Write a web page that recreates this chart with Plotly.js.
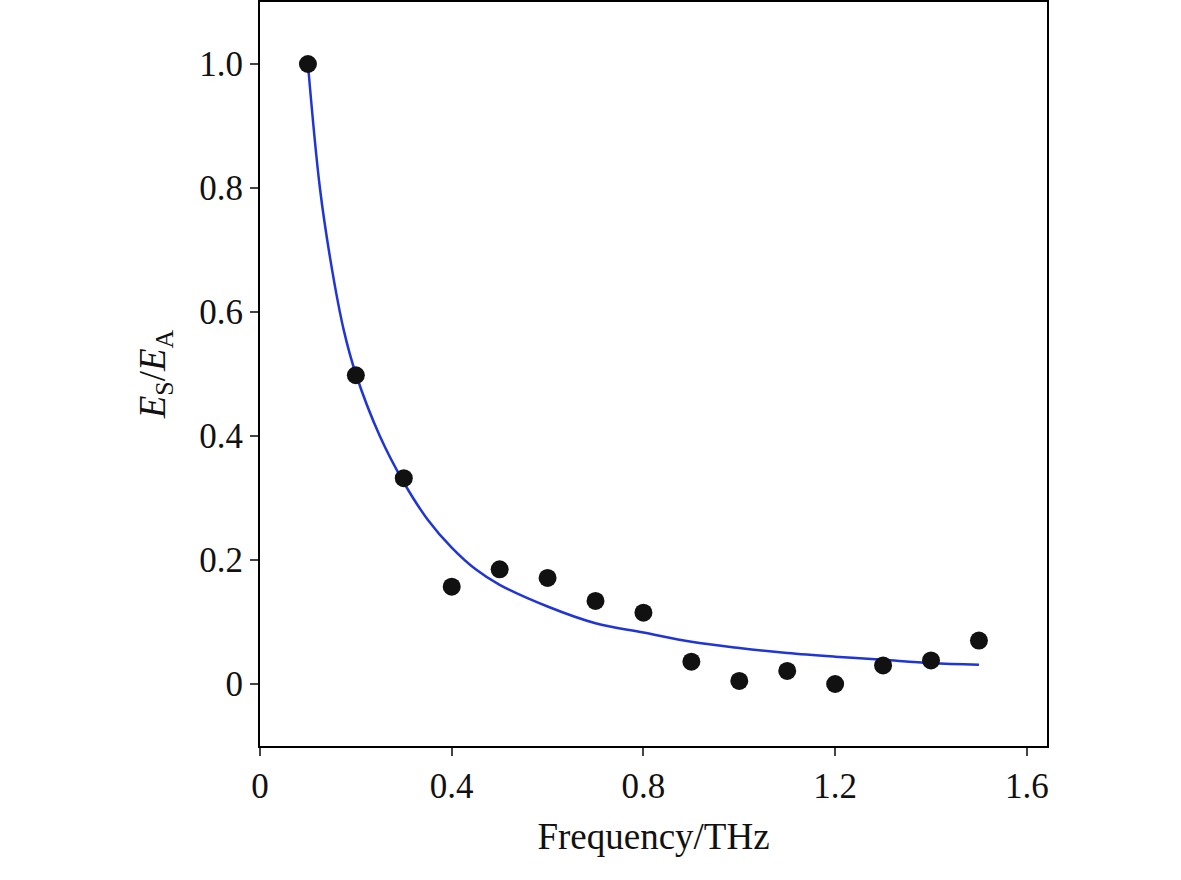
<!DOCTYPE html>
<html>
<head>
<meta charset="utf-8">
<script src="https://cdn.plot.ly/plotly-3.0.1.min.js"></script>
<style>body{margin:0;background:#fff}</style>
</head>
<body>
<div id="chart" style="width:1181px;height:880px"></div>
<script>
// measured points
var freq = [0.1, 0.2, 0.3, 0.4, 0.5, 0.6, 0.7, 0.8, 0.9, 1.0, 1.1, 1.2, 1.3, 1.4, 1.5];
var ratio = [1.0, 0.498, 0.332, 0.157, 0.185, 0.171, 0.134, 0.115, 0.036, 0.005, 0.021, 0.0, 0.03, 0.038, 0.07];

// fitted curve
var fitX = [0.1, 0.125, 0.15, 0.175, 0.2, 0.25, 0.3, 0.35, 0.4, 0.45, 0.5, 0.6, 0.7, 0.8, 0.9, 1.0, 1.1, 1.2, 1.3, 1.4, 1.5];
var fitY = [1.0, 0.80, 0.67, 0.57, 0.50, 0.40, 0.325, 0.265, 0.22, 0.185, 0.16, 0.125, 0.098, 0.083, 0.068, 0.058, 0.050, 0.044, 0.039, 0.034, 0.031];

var xTicks = [0, 0.4, 0.8, 1.2, 1.6];
var xLabels = ['0', '0.4', '0.8', '1.2', '1.6'];
var yTicks = [0, 0.2, 0.4, 0.6, 0.8, 1.0];
var yLabels = ['0', '0.2', '0.4', '0.6', '0.8', '1.0'];

var fit = {
  x: fitX, y: fitY, mode: 'lines', line: {color: '#1f35d6', width: 2.5, shape: 'spline'}, hoverinfo: 'skip'
};
var pts = {
  x: freq, y: ratio, mode: 'markers', marker: {color: '#111', size: 18}
};

var axisBase = {
  showgrid: false, zeroline: false, showline: true, mirror: true,
  linecolor: '#000', linewidth: 2, ticks: 'outside', ticklen: 8, tickwidth: 2,
  tickfont: {size: 35, color: '#111'}
};

var layout = {
  showlegend: false,
  font: {family: 'Liberation Serif, Times New Roman, serif', color: '#111'},
  margin: {l: 260, r: 134, t: 2, b: 134},
  plot_bgcolor: '#fff', paper_bgcolor: '#fff',
  xaxis: Object.assign({}, axisBase, {
    range: [0, 1.642], tickvals: xTicks, ticktext: xLabels,
    title: {text: 'Frequency/THz', font: {size: 37}, standoff: 18}
  }),
  yaxis: Object.assign({}, axisBase, {
    range: [-0.1, 1.1], tickvals: yTicks, ticktext: yLabels,
    title: {text: '<i>E</i><sub>S</sub>/<i>E</i><sub>A</sub>', font: {size: 37}, standoff: 22}
  })
};

Plotly.newPlot('chart', [fit, pts], layout, {staticPlot: true});
</script>
</body>
</html>
